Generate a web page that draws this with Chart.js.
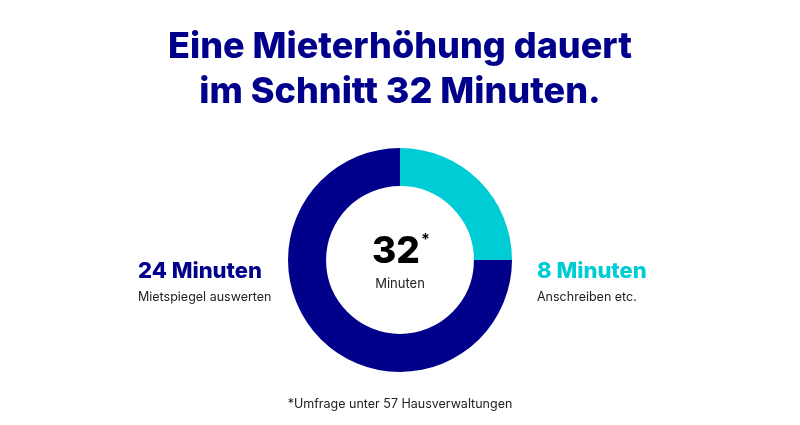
<!DOCTYPE html>
<html>
<head>
<meta charset="utf-8">
<script src="https://cdn.jsdelivr.net/npm/chart.js@4/dist/chart.umd.min.js"></script>
<style>
  html, body { margin: 0; padding: 0; background: #fff; }
  #wrap { width: 800px; height: 425px; position: relative; }
</style>
</head>
<body>
<div id="wrap"><canvas id="donut"></canvas></div>
<script>
const categories = ["Anschreiben etc.", "Mietspiegel auswerten"];
const minutes = [8, 24];
const sliceColors = ["#00CCD6", "#00008B"];
const titleLines = ["Eine Mieterhöhung dauert", "im Schnitt 32 Minuten."];
const footnote = "*Umfrage unter 57 Hausverwaltungen";

const navy = "#00008B";
const font = "Inter, 'Open Sans', sans-serif";

// draws title, side labels, center total and footnote
const textPlugin = {
    id: "texts",
    afterDraw(chart) {
        const ctx = chart.ctx;
        const meta = chart.getDatasetMeta(0);
        const arc = meta.data[0];
        const cx = arc.x, cy = arc.y, r = arc.outerRadius;
        const total = minutes.reduce((a, b) => a + b, 0);

        ctx.save();
        ctx.textBaseline = "middle";

        // title
        ctx.fillStyle = navy;
        ctx.textAlign = "center";
        ctx.font = "800 36px " + font;
        ctx.fillText(titleLines[0], 400, 47);
        ctx.fillText(titleLines[1], 400, 92);

        // center
        ctx.fillStyle = "#000";
        ctx.font = "800 37px " + font;
        const num = String(total);
        const w = ctx.measureText(num).width;
        ctx.fillText(num, cx - 4, cy - 8);
        ctx.font = "bold 16px " + font;
        ctx.textAlign = "left";
        ctx.fillText("*", cx - 4 + w / 2 + 1, cy - 20);
        ctx.textAlign = "center";
        ctx.font = "13px " + font;
        ctx.fillStyle = "#222";
        ctx.fillText("Minuten", cx, cy + 24);

        // left label (second category)
        ctx.textAlign = "left";
        ctx.fillStyle = sliceColors[1];
        ctx.font = "800 22px " + font;
        ctx.fillText(minutes[1] + " Minuten", 138, cy + 11);
        ctx.fillStyle = "#222";
        ctx.font = "12.5px " + font;
        ctx.fillText(categories[1], 138, cy + 37);

        // right label (first category)
        ctx.fillStyle = sliceColors[0];
        ctx.font = "800 22px " + font;
        ctx.fillText(minutes[0] + " Minuten", cx + r + 25, cy + 11);
        ctx.fillStyle = "#222";
        ctx.font = "12.5px " + font;
        ctx.fillText(categories[0], cx + r + 25, cy + 37);

        // footnote
        ctx.textAlign = "center";
        ctx.fillText(footnote, 400, 404);
        ctx.restore();
    }
};

new Chart(document.getElementById("donut"), {
    type: "doughnut",
    data: {
        labels: categories,
        datasets: [{
            data: minutes,
            backgroundColor: sliceColors,
            borderWidth: 0
        }]
    },
    options: {
        responsive: true,
        maintainAspectRatio: false,
        animation: false,
        cutout: "66%",
        layout: { padding: { top: 148, bottom: 53, left: 0, right: 0 } },
        plugins: {
            legend: { display: false },
            tooltip: { enabled: false }
        }
    },
    plugins: [textPlugin]
});
</script>
</body>
</html>
